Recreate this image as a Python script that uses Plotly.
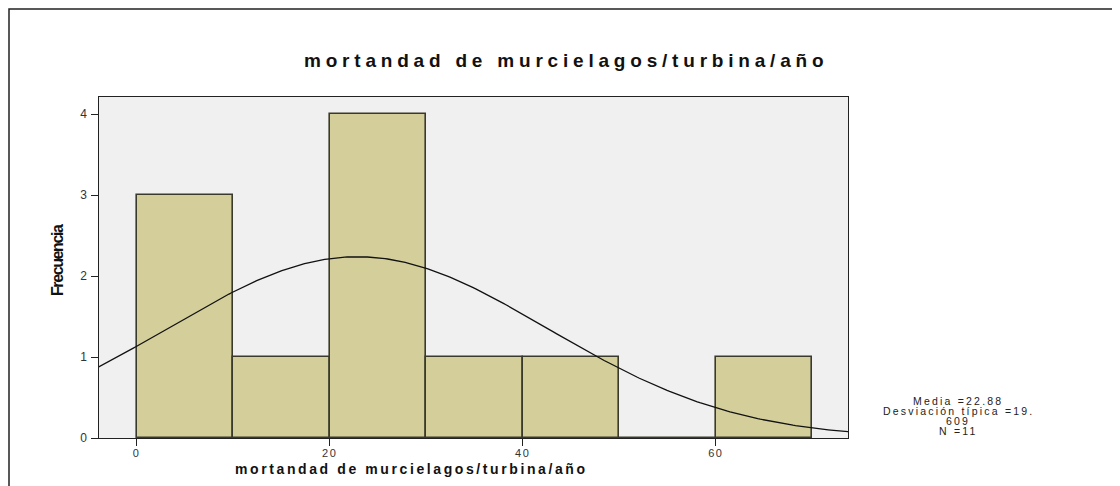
import numpy as np
import plotly.graph_objects as go

# Histogram bins (centers, width 10) and frequencies
bin_centers = [5, 15, 25, 35, 45, 55, 65]
bin_width = 10
frequencies = [3, 1, 4, 1, 1, 0, 1]

# Summary statistics shown on chart
mean_val = 22.88
std_val = 19.609
n_val = 11

x_ticks = [0, 20, 40, 60]
y_ticks = [0, 1, 2, 3, 4]

title_text = "mortandad de murcielagos/turbina/año"
y_title = "Frecuencia"
stats_lines = ["Media =22.88", "Desviación típica =19.", "609", "N =11"]

# Fitted normal curve from displayed statistics
xc = np.linspace(-4, 74, 300)
yc = n_val * bin_width / (std_val * np.sqrt(2 * np.pi)) * np.exp(-0.5 * ((xc - mean_val) / std_val) ** 2)

fig = go.Figure()
fig.add_trace(go.Bar(
    x=bin_centers, y=frequencies, width=bin_width,
    marker=dict(color="#D3CE9A", line=dict(color="#3A3A2C", width=1.6)),
    hoverinfo="x+y",
))
fig.add_trace(go.Scatter(
    x=xc, y=yc, mode="lines", line=dict(color="#111111", width=1.3),
    hoverinfo="skip",
))

fs = "Liberation Sans, Arial, sans-serif"
OFF = 8  # page body margin
W, H = 1120 - OFF, 486 - OFF
L, R, T, B = 99, 848, 97, 438  # plot area in page pixels

def tk(v):
    return '<span style="letter-spacing:1.5px">' + str(v) + '</span>'

fig.update_layout(
    width=W, height=H,
    margin=dict(l=L - OFF, r=W - (R - OFF), t=T - OFF, b=H - (B - OFF)),
    paper_bgcolor="white", plot_bgcolor="#F0F0F0",
    showlegend=False, bargap=0,
    font=dict(family=fs, color="#222"),
    xaxis=dict(range=[-3.9, 73.7], tickvals=x_ticks, ticktext=[tk(v) for v in x_ticks],
               ticks="outside", ticklen=7, ticklabelstandoff=-2,
               tickcolor="#222", showgrid=False, zeroline=False, showline=True,
               linecolor="#222", linewidth=1.2, mirror=True,
               tickfont=dict(size=11, color="#333")),
    yaxis=dict(range=[0, 4.21], tickvals=y_ticks, ticktext=[tk(v) for v in y_ticks],
               ticks="outside", ticklen=7,
               tickcolor="#222", showgrid=False, zeroline=False, showline=True,
               linecolor="#222", linewidth=1.2, mirror=True,
               tickfont=dict(size=12, color="#333")),
)

def px_x(px):
    return (px - L) / float(R - L)

def px_y(py):
    return (B - py) / float(B - T)

annotations = [
    dict(text='<span style="letter-spacing:4.8px">' + title_text + '</span>',
         x=px_x(566), y=px_y(60), font=dict(size=19, family=fs, color="#111", weight="bold")),
    dict(text='<span style="letter-spacing:2.6px">' + title_text + '</span>',
         x=px_x(411), y=px_y(469), font=dict(size=14, family=fs, color="#111", weight="bold")),
    dict(text='<span style="letter-spacing:-1.4px">' + y_title + '</span>', textangle=-90,
         x=px_x(57), y=px_y(260),
         font=dict(size=16, family=fs, color="#111", weight="bold")),
]
for line, py in zip(stats_lines, [401, 411, 421, 431]):
    annotations.append(dict(text='<span style="letter-spacing:2.2px">' + line + '</span>',
                            x=px_x(958), y=px_y(py), font=dict(size=10.5, family=fs, color="#222")))
for a in annotations:
    a.update(xref="paper", yref="paper", showarrow=False, xanchor="center", yanchor="middle")
fig.update_layout(annotations=annotations)

fig.add_shape(type="rect", xref="paper", yref="paper",
              x0=px_x(9), x1=px_x(1200), y0=px_y(9), y1=px_y(600),
              line=dict(color="#222", width=1.5), fillcolor="rgba(0,0,0,0)", layer="below")

fig.write_html("out.html")
